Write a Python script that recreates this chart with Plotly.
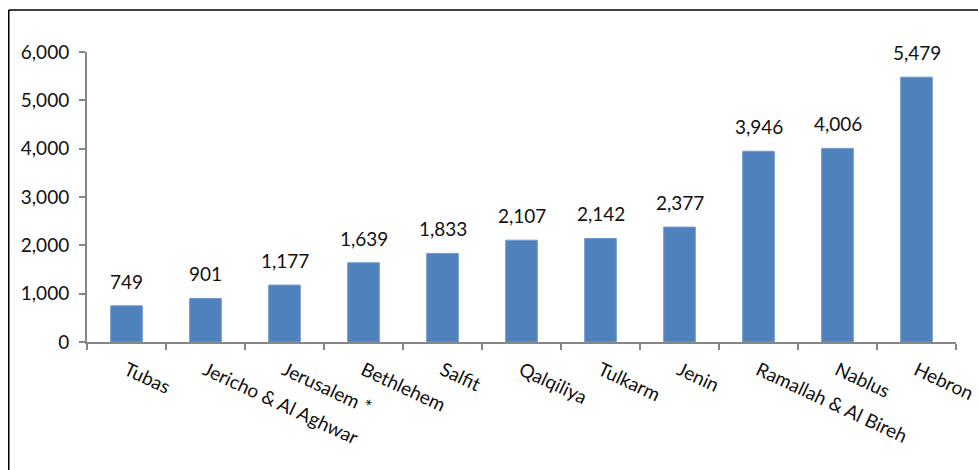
import plotly.graph_objects as go

categories = ["Tubas", "Jericho & Al Aghwar", "Jerusalem *", "Bethlehem", "Salfit",
              "Qalqiliya", "Tulkarm", "Jenin", "Ramallah & Al Bireh", "Nablus", "Hebron"]
values = [749, 901, 1177, 1639, 1833, 2107, 2142, 2377, 3946, 4006, 5479]
y_ticks = [0, 1000, 2000, 3000, 4000, 5000, 6000]
y_tick_labels = ["0", "1,000", "2,000", "3,000", "4,000", "5,000", "6,000"]

W, H = 978, 470
L, T = 87, 52
pw, ph = 869, 290
R = W - L - pw
B = H - T - ph

FONT = "Lato"
FS = 19
fig = go.Figure()
fig.add_trace(go.Bar(
    x=list(range(len(categories))), y=values,
    width=0.4, marker=dict(color="#4F81BD", line=dict(color="#6f98cc", width=1)),
    hoverinfo="skip",
))
for i, v in enumerate(values):
    fig.add_annotation(x=i, y=v, text=f"{v:,}", showarrow=False, xref="x", yref="y",
                       yanchor="bottom", yshift=11, font=dict(family=FONT, size=FS, color="#111111"))

fig.update_layout(
    width=W, height=H, margin=dict(l=L, r=R, t=T, b=B, autoexpand=False),
    paper_bgcolor="white", plot_bgcolor="white", showlegend=False,
    font=dict(family=FONT, size=FS, color="#111111"),
)
fig.update_xaxes(
    range=[-0.5, len(categories) - 0.5], automargin=False,
    tickmode="array", tickvals=list(range(len(categories))), ticktext=categories,
    tickangle=25, ticks="", showline=True, linecolor="#868686", linewidth=2,
    showgrid=False, zeroline=False, tickfont=dict(family=FONT, size=FS), ticklabelstandoff=8,
    ticklabeloverflow="allow",
)
fig.update_xaxes(minor=dict(tickmode="array", tickvals=[i - 0.5 for i in range(len(categories) + 1)],
                            ticks="outside", ticklen=6, tickcolor="#868686", tickwidth=2, showgrid=False))
fig.update_yaxes(
    range=[0, 6000], automargin=False, tickmode="array", tickvals=y_ticks, ticktext=y_tick_labels,
    ticks="outside", ticklen=6, tickcolor="#868686", tickwidth=2,
    showline=True, linecolor="#868686", linewidth=2, showgrid=False, zeroline=False,
    tickfont=dict(family=FONT, size=FS), ticklabelstandoff=6,
)
# outer chart border (left and top edges visible), positioned in figure pixels
bx, by = 8, 10
def px_to_paper_x(px):
    return (px - L) / pw
def py_to_paper_y(py):
    return (H - B - py) / ph
fig.add_shape(type="line", xref="paper", yref="paper",
              x0=px_to_paper_x(bx + 0.75), x1=px_to_paper_x(W + 20), y0=py_to_paper_y(by), y1=py_to_paper_y(by),
              line=dict(color="#000000", width=1.5))
fig.add_shape(type="line", xref="paper", yref="paper",
              x0=px_to_paper_x(bx + 0.75), x1=px_to_paper_x(bx + 0.75), y0=py_to_paper_y(by), y1=py_to_paper_y(H + 20),
              line=dict(color="#000000", width=1.5))

fig.write_html("out.html", config={"displayModeBar": False},
               post_script="document.body.style.margin='0px';document.body.style.overflow='hidden';")
